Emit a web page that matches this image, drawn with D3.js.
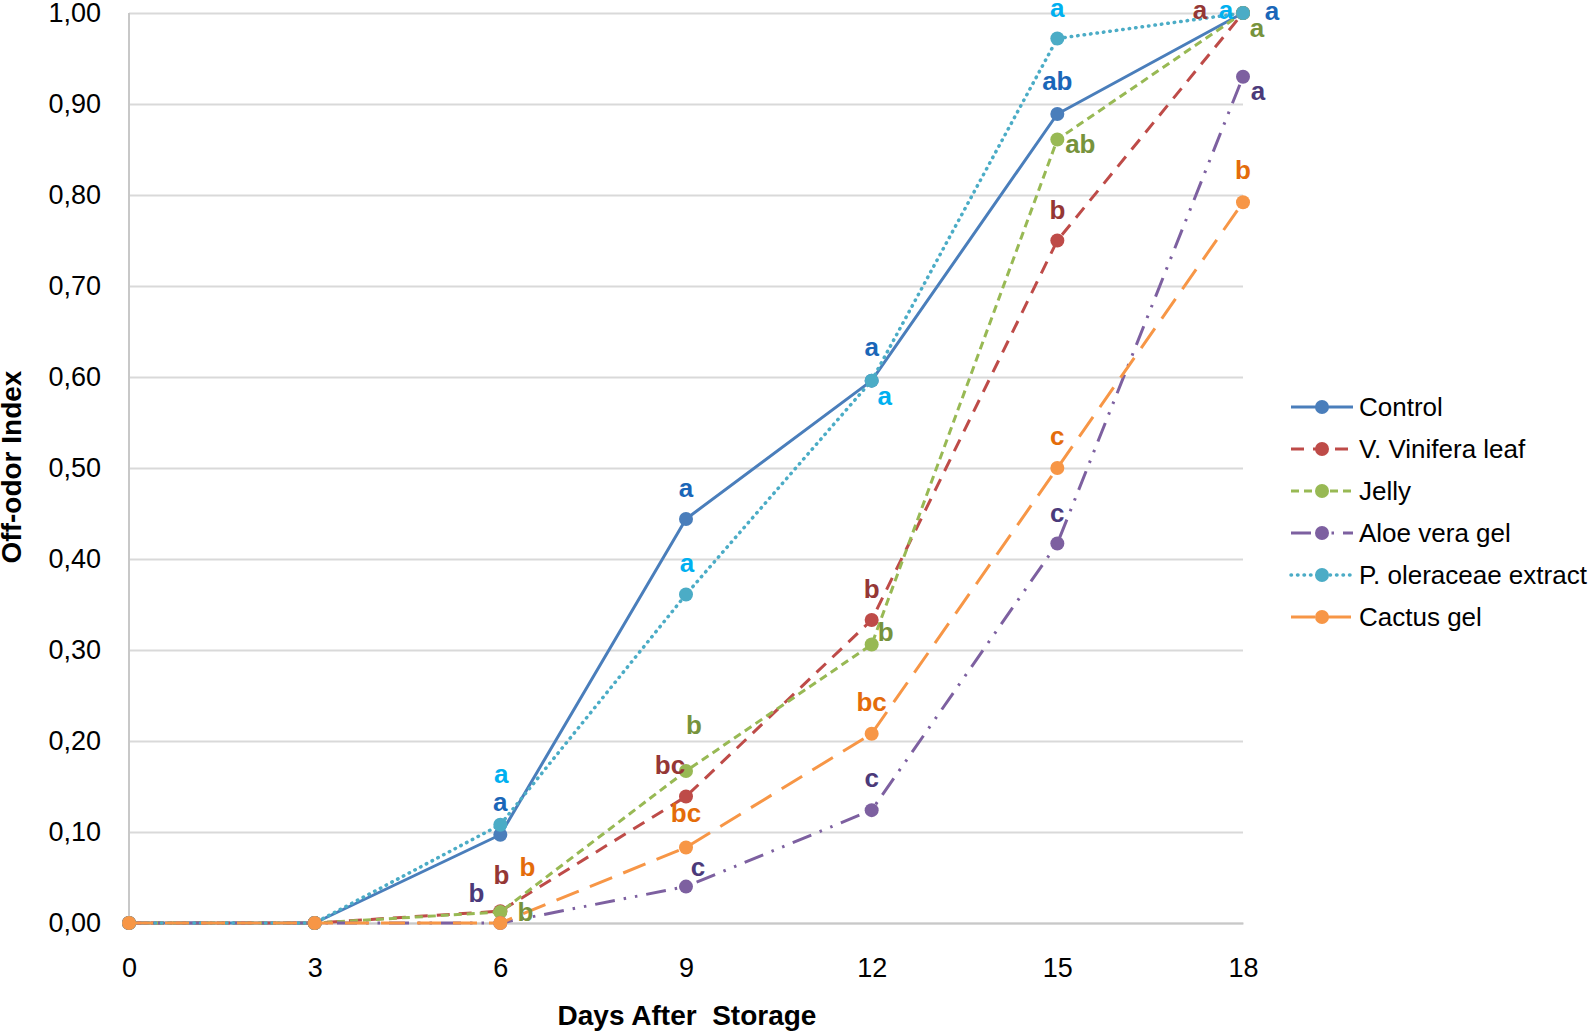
<!DOCTYPE html>
<html>
<head>
<meta charset="utf-8">
<script src="https://cdn.jsdelivr.net/npm/d3@7"></script>
<style>
  html, body { margin: 0; padding: 0; background: #fff; }
  svg { display: block; font-family: Arial, "Liberation Sans", sans-serif; }
</style>
</head>
<body>
<svg id="chart" width="1594" height="1033"></svg>
<script>
// -------------- DATA ----------------- //
const days = [0, 3, 6, 9, 12, 15, 18];
const seriesNames = ["Control", "V. Vinifera leaf", "Jelly", "Aloe vera gel", "P. oleraceae extract", "Cactus gel"];

const control     = [0, 0, 0.097, 0.444, 0.596, 0.889, 1.00];
const vinifera    = [0, 0, 0.013, 0.139, 0.333, 0.750, 1.00];
const jelly       = [0, 0, 0.012, 0.167, 0.306, 0.861, 1.00];
const aloe        = [0, 0, 0.000, 0.040, 0.124, 0.417, 0.930];
const oleraceae   = [0, 0, 0.108, 0.361, 0.596, 0.972, 1.00];
const cactus      = [0, 0, 0.000, 0.083, 0.208, 0.500, 0.792];

// significance letters (null = no letter)
const controlLetters   = [null, null, "a", "a", "a", "ab", "a"];
const viniferaLetters  = [null, null, "b", "bc", "b", "b", "a"];
const jellyLetters     = [null, null, "b", "b", "b", "ab", "a"];
const aloeLetters      = [null, null, "b", "c", "c", "c", "a"];
const oleraceaeLetters = [null, null, "a", "a", "a", "a", "a"];
const cactusLetters    = [null, null, "b", "bc", "bc", "c", "b"];

const yTicks = [0, 0.1, 0.2, 0.3, 0.4, 0.5, 0.6, 0.7, 0.8, 0.9, 1.0];

// -------------- STYLE ----------------- //
const lineColors   = ["#4a7ebb", "#be4b48", "#98b954", "#7d60a0", "#4bacc6", "#f79646"];
const letterColors = ["#1a66b8", "#953735", "#77933c", "#4b3a7a", "#00b0f0", "#e46c0a"];
const dashes       = [null, "13,9", "8,5", "20,9,2.5,9,2.5,9", "2.5,3.5", "24,12"];

// label offsets from the point (dx, dy), layout only
const letterOffsets = [
  [null, null, [0, -33], [0, -31], [0, -34], [0, -33], [29, -2]],
  [null, null, [1, -36], [-16, -32], [0, -31], [0, -31], [-43, -3]],
  [null, null, [25, 0], [8, -46], [14, -13], [23, 5], [14, 15]],
  [null, null, [-24, -30], [12, -20], [0, -32], [0, -31], [15, 14]],
  [null, null, [1, -51], [1, -31], [13, 15], [0, -30], [-17, -3]],
  [null, null, [27, -56], [0, -34], [0, -32], [0, -32], [0, -32]]
];

const allValues  = [control, vinifera, jelly, aloe, oleraceae, cactus];
const allLetters = [controlLetters, viniferaLetters, jellyLetters, aloeLetters, oleraceaeLetters, cactusLetters];

const PLOT = { left: 129, right: 1243, top: 13, bottom: 923 };

// -------------- SETUP ----------------- //
const svg = d3.select("#chart");

const x = d3.scaleLinear().domain([0, 18]).range([PLOT.left, PLOT.right]);
const y = d3.scaleLinear().domain([0, 1]).range([PLOT.bottom, PLOT.top]);

// gridlines + y labels
const yAxis = d3.axisLeft(y)
  .tickValues(yTicks)
  .tickSize(-(PLOT.right - PLOT.left))
  .tickPadding(28)
  .tickFormat(d => d3.format(".2f")(d).replace(".", ","));

const yg = svg.append("g")
  .attr("transform", `translate(${PLOT.left},0)`)
  .call(yAxis);
yg.select(".domain").remove();
yg.selectAll("line").attr("stroke", "#d9d9d9").attr("stroke-width", 2);
yg.selectAll("text").attr("font-size", 27).attr("fill", "#000")
  .attr("font-family", "Arial, 'Liberation Sans', sans-serif");

// y axis line
svg.append("line")
  .attr("x1", PLOT.left).attr("x2", PLOT.left)
  .attr("y1", PLOT.top).attr("y2", PLOT.bottom)
  .attr("stroke", "#c8c8c8").attr("stroke-width", 2);

// x axis
const xAxis = d3.axisBottom(x)
  .tickValues(days)
  .tickSize(0)
  .tickPadding(35);
const xg = svg.append("g")
  .attr("transform", `translate(0,${PLOT.bottom})`)
  .call(xAxis);
xg.select(".domain").attr("stroke", "#c8c8c8").attr("stroke-width", 2);
xg.selectAll("text").attr("font-size", 27).attr("fill", "#000")
  .attr("font-family", "Arial, 'Liberation Sans', sans-serif");

// axis titles
svg.append("text")
  .attr("x", 687).attr("y", 1025)
  .attr("text-anchor", "middle")
  .attr("font-size", 28).attr("font-weight", "bold")
  .attr("xml:space", "preserve")
  .text("Days After  Storage");

svg.append("text")
  .attr("transform", "translate(21,467) rotate(-90)")
  .attr("text-anchor", "middle")
  .attr("font-size", 28).attr("font-weight", "bold")
  .text("Off-odor Index");

// -------------- SERIES ----------------- //
const line = d3.line()
  .x((d, i) => x(days[i]))
  .y(d => y(d));

allValues.forEach((vals, s) => {
  const g = svg.append("g");
  const path = g.append("path")
    .attr("d", line(vals))
    .attr("fill", "none")
    .attr("stroke", lineColors[s])
    .attr("stroke-width", 3)
    .attr("stroke-linejoin", "round");
  if (dashes[s]) path.attr("stroke-dasharray", dashes[s]);
  if (s === 4) path.attr("stroke-linecap", "round").attr("stroke-dasharray", "0.5,6").attr("stroke-width", 3.5);

  g.selectAll("circle")
    .data(vals)
    .join("circle")
    .attr("cx", (d, i) => x(days[i]))
    .attr("cy", d => y(d))
    .attr("r", 7)
    .attr("fill", lineColors[s]);
});

// letters drawn above all lines
allValues.forEach((vals, s) => {
  vals.forEach((v, i) => {
    const letter = allLetters[s][i];
    if (!letter) return;
    const off = letterOffsets[s][i];
    svg.append("text")
      .attr("x", x(days[i]) + off[0])
      .attr("y", y(v) + off[1] + 9)
      .attr("text-anchor", "middle")
      .attr("font-size", 26)
      .attr("font-weight", "bold")
      .attr("fill", letterColors[s])
      .text(letter);
  });
});

// -------------- LEGEND ----------------- //
const legend = svg.append("g");
seriesNames.forEach((name, s) => {
  const ly = 407 + s * 42;
  const row = legend.append("g").attr("transform", `translate(0,${ly})`);
  const seg = row.append("line")
    .attr("x1", 1291).attr("x2", 1353)
    .attr("y1", 0).attr("y2", 0)
    .attr("stroke", lineColors[s])
    .attr("stroke-width", 3);
  if (dashes[s]) seg.attr("stroke-dasharray", dashes[s]);
  if (s === 4) seg.attr("stroke-linecap", "round").attr("stroke-dasharray", "0.5,6").attr("stroke-width", 3.5);
  row.append("circle")
    .attr("cx", 1322).attr("cy", 0).attr("r", 7)
    .attr("fill", lineColors[s]);
  row.append("text")
    .attr("x", 1359).attr("y", 0).attr("dy", "0.35em")
    .attr("font-size", 26)
    .attr("fill", "#000")
    .text(name);
});
</script>
</body>
</html>
